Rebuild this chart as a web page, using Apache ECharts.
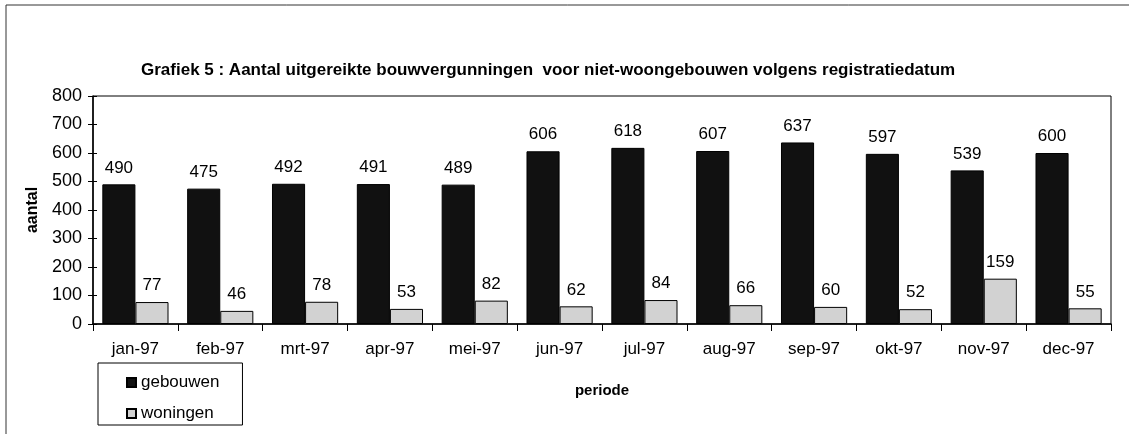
<!DOCTYPE html>
<html>
<head>
<meta charset="utf-8">
<script src="https://cdn.jsdelivr.net/npm/echarts@6/dist/echarts.min.js"></script>
<style>
  html, body { margin: 0; padding: 0; background: #fff; }
  #chart { width: 1129px; height: 434px; }
</style>
</head>
<body>
<div id="chart"></div>
<script>
// maanden (categorieën)
var maanden = ['jan-97', 'feb-97', 'mrt-97', 'apr-97', 'mei-97', 'jun-97',
               'jul-97', 'aug-97', 'sep-97', 'okt-97', 'nov-97', 'dec-97'];
// aantal vergunningen
var gebouwen = [490, 475, 492, 491, 489, 606, 618, 607, 637, 597, 539, 600];
var woningen = [77, 46, 78, 53, 82, 62, 84, 66, 60, 52, 159, 55];

var FONT = 'Arial, "Liberation Sans", sans-serif';

var myChart = echarts.init(document.getElementById('chart'));

var labelStyle = {
    show: true,
    position: 'top',
    distance: 8,
    color: '#000',
    fontFamily: FONT,
    fontSize: 17
};

myChart.setOption({
    animation: false,
    backgroundColor: '#fff',
    // randen van de gescande pagina
    graphic: [{
        type: 'polyline',
        shape: { points: [[6, 434], [6, 5], [1129, 5]] },
        style: { stroke: '#333', lineWidth: 1, fill: null }
    }],
    title: {
        text: 'Grafiek 5 : Aantal uitgereikte bouwvergunningen  voor niet-woongebouwen volgens registratiedatum',
        left: 136,
        top: 57,
        textStyle: {
            fontFamily: FONT,
            fontSize: 17,
            fontWeight: 'bold',
            color: '#000'
        }
    },
    legend: {
        orient: 'vertical',
        left: 98,
        top: 363,
        itemWidth: 9,
        itemHeight: 9,
        itemGap: 14,
        padding: [11, 23, 3, 28],
        borderColor: '#000',
        borderWidth: 1,
        icon: 'rect',
        textStyle: {
            fontFamily: FONT,
            fontSize: 17,
            color: '#000'
        },
        data: ['gebouwen', 'woningen']
    },
    grid: {
        left: 93,
        right: 18,
        top: 96,
        bottom: 110,
        show: true,
        borderColor: '#000',
        borderWidth: 1
    },
    xAxis: {
        type: 'category',
        data: maanden,
        name: 'periode',
        nameLocation: 'middle',
        nameGap: 59,
        nameTextStyle: {
            fontFamily: FONT,
            fontSize: 15,
            fontWeight: 'bold',
            color: '#000'
        },
        axisLine: { lineStyle: { color: '#000', width: 1.5 } },
        axisTick: { show: true, length: 7, lineStyle: { color: '#000' } },
        axisLabel: {
            margin: 17,
            color: '#000',
            fontFamily: FONT,
            fontSize: 17
        }
    },
    yAxis: [{
        type: 'value',
        min: 0,
        max: 800,
        interval: 100,
        name: 'aantal',
        nameLocation: 'middle',
        nameGap: 52,
        nameTextStyle: {
            fontFamily: FONT,
            fontSize: 16,
            fontWeight: 'bold',
            color: '#000'
        },
        splitLine: { show: false },
        axisLine: { show: true, lineStyle: { color: '#000', width: 1.5 } },
        axisTick: { show: true, length: 5, lineStyle: { color: '#000' } },
        axisLabel: {
            margin: 11,
            color: '#000',
            fontFamily: FONT,
            fontSize: 18
        }
    }, {
        // streepjes aan de binnenkant van de as
        type: 'value',
        position: 'left',
        min: 0,
        max: 800,
        interval: 100,
        splitLine: { show: false },
        axisLine: { show: false },
        axisTick: { show: true, inside: true, length: 4, lineStyle: { color: '#000' } },
        axisLabel: { show: false }
    }],
    series: [
        {
            name: 'gebouwen',
            type: 'bar',
            barGap: '0%',
            barCategoryGap: '22%',
            data: gebouwen,
            itemStyle: { color: '#111', borderColor: '#000', borderWidth: 1 },
            label: labelStyle
        },
        {
            name: 'woningen',
            type: 'bar',
            data: woningen,
            itemStyle: { color: '#d2d2d2', borderColor: '#000', borderWidth: 1 },
            label: labelStyle
        }
    ]
});
</script>
</body>
</html>
